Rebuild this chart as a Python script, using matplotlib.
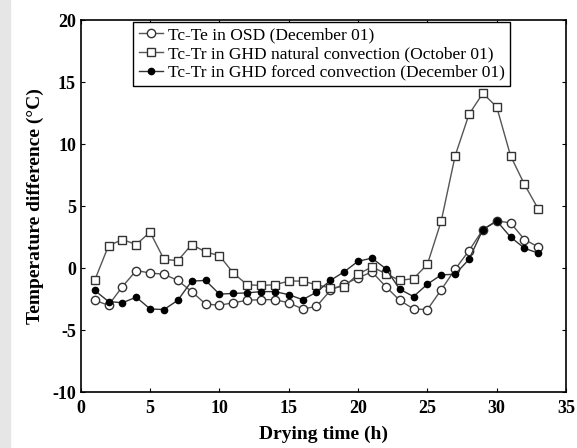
import matplotlib
matplotlib.use("Agg")
import matplotlib.pyplot as plt
from matplotlib.patches import Rectangle

hours = list(range(1, 34))

osd = [-2.6, -3.0, -1.5, -0.2, -0.4, -0.5, -1.0, -1.9, -2.9, -3.0,
       -2.8, -2.6, -2.55, -2.55, -2.8, -3.3, -3.1, -1.8, -1.3, -0.8,
       -0.3, -1.5, -2.6, -3.3, -3.35, -1.75, -0.1, 1.4, 3.1, 3.8,
       3.65, 2.3, 1.7]

ghd_natural = [-1.0, 1.8, 2.3, 1.9, 2.9, 0.7, 0.6, 1.9, 1.3, 1.0,
               -0.4, -1.35, -1.4, -1.35, -1.05, -1.05, -1.35, -1.6, -1.5, -0.5,
               0.1, -0.45, -1.0, -0.85, 0.3, 3.8, 9.05, 12.4, 14.1, 13.0,
               9.05, 6.75, 4.76]

ghd_forced = [-1.8, -2.7, -2.8, -2.35, -3.3, -3.35, -2.6, -1.05, -1.0, -2.1,
              -2.05, -2.0, -1.9, -1.9, -2.15, -2.55, -1.95, -1.0, -0.3, 0.55,
              0.8, -0.05, -1.7, -2.3, -1.3, -0.55, -0.5, 0.7, 3.1, 3.8,
              2.5, 1.6, 1.2]

labels = ["Tc-Te in OSD (December 01)",
          "Tc-Tr in GHD natural convection (October 01)",
          "Tc-Tr in GHD forced convection (December 01)"]

plt.rcParams['font.family'] = ['Liberation Serif', 'DejaVu Serif']
plt.rcParams['axes.unicode_minus'] = False

fig = plt.figure(figsize=(5.77, 4.48), dpi=100)
fig.patches.append(Rectangle((0, 0), 10 / 577, 1, transform=fig.transFigure,
                             color="#e6e6e6", zorder=0))
ax = fig.add_axes([0.140, 0.125, 0.841, 0.830])

line_col = "#555555"
ax.plot(hours, osd, color=line_col, lw=1.0, marker="o", ms=6,
        mfc="white", mec="#333333", mew=1.0, label=labels[0])
ax.plot(hours, ghd_natural, color=line_col, lw=1.0, marker="s", ms=6,
        mfc="white", mec="#333333", mew=1.0, label=labels[1])
ax.plot(hours, ghd_forced, color="#333333", lw=1.0, marker="o", ms=4.5,
        mfc="black", mec="black", label=labels[2])

ax.set_xlim(0, 35)
ax.set_ylim(-10, 20)
ax.set_xticks(range(0, 36, 5))
ax.set_yticks(range(-10, 21, 5))
ax.tick_params(direction="in", top=True, right=True, length=3, labelsize=13)
ax.tick_params(axis="x", pad=6)
for t in ax.get_xticklabels() + ax.get_yticklabels():
    t.set_fontweight("bold")
for s in ax.spines.values():
    s.set_linewidth(1.2)

ax.set_xlabel("Drying time (h)", fontsize=14, fontweight="bold", labelpad=6)
ax.set_ylabel("Temperature difference (\u00b0C)", fontsize=14,
              fontweight="bold", labelpad=6)

leg = ax.legend(loc="upper left", bbox_to_anchor=(0.105, 1.0), fontsize=12.5,
                handlelength=1.4, handletextpad=0.3, labelspacing=0.15,
                borderpad=0.3, borderaxespad=0.1, fancybox=False,
                edgecolor="black", framealpha=1)
leg.get_frame().set_linewidth(1.0)

fig.savefig("out.png", dpi=100)
